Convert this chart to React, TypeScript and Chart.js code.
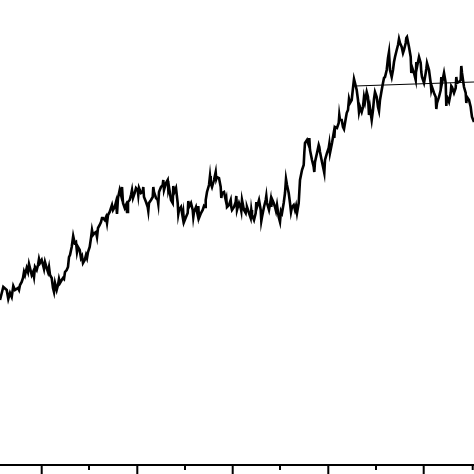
import React, { useEffect, useRef } from "react";
import { Chart, registerables } from "chart.js";

Chart.register(...registerables);

// time index (horizontal) and series value (vertical)
const timeA = [0, 6.7, 10, 11.7, 15, 18, 20, 21.7, 23, 25,
  26.7, 28, 30, 31.7, 33, 35, 36.7, 38, 40, 41.7,
  43, 45, 46.7, 48, 50, 51.7, 53, 55, 56.7, 58,
  60, 61.7, 63, 65, 66.7, 68, 70, 71.7];
const valueA = [33, 35, 34.4, 33.6, 35, 35.4, 36, 36.6, 37.4, 38,
  39.4, 38.6, 39.4, 38, 38.6, 39.6, 39, 40, 40.4, 41,
  40, 40.6, 39.4, 38.6, 38, 37.4, 35.4, 36.4, 35, 36,
  36.4, 37, 37.4, 38.6, 39, 39.6, 42, 43.6];

const timeB = [74.7, 76, 78, 79.7, 81, 83, 84.7, 86, 88, 89.7,
  91, 93, 94.7, 96, 98, 99.7, 101, 103, 104.7, 106,
  108, 109.7, 111, 113, 114.7, 116, 118, 119.7, 121, 123,
  124.7, 126, 128, 129.7, 131, 133, 134.7, 136];
const valueB = [44.4, 44.6, 43.6, 43, 41.4, 40.4, 41, 42, 42.6, 43.6,
  45.4, 46, 46.4, 46.6, 47.4, 48, 48.6, 49.4, 49, 49.6,
  50, 50.6, 51.4, 51, 51.6, 52.6, 53.4, 55, 54, 52.4,
  51.4, 52, 52.6, 53, 54, 53.4, 54.4, 55.4];

const timeC = [137.7, 139, 141, 142.7, 144, 146, 147.7, 149, 151, 152.7,
  154, 156, 157.7, 159, 161, 162.7, 164, 166, 167.7, 169,
  171, 172.7, 174, 176, 177.7, 179, 181, 182.7, 184, 186,
  187.7, 189, 191, 192.7, 194, 196, 197.7, 199, 201, 202.7];
const valueC = [55, 55.4, 54.4, 54.6, 53.6, 52.6, 51.6, 52.4, 53, 53.6,
  54.6, 53.4, 53, 54.6, 55.6, 56, 55, 56.4, 57, 55.6,
  53, 52.4, 54.4, 55.4, 52.4, 51, 51.6, 49.6, 48.6, 49.6,
  50.4, 51.6, 52.4, 51, 50.6, 51.6, 50, 49.4, 50.4, 51];

const timeD = [204, 205.7, 207, 209, 210.7, 212, 214, 215.7, 217, 219,
  220.7, 222, 224, 225.7, 227, 229, 230.7, 232, 234, 235.7,
  237, 239, 240.7, 242, 244, 245.7, 247, 249, 250.7, 252,
  254, 255.7, 257, 259, 260.7, 262, 264, 265.7, 267, 269,
  270.7, 272];
const valueD = [51.8, 53, 54.6, 56, 56.4, 55.6, 57, 58.6, 57.6, 57.4,
  55.6, 54.4, 54.6, 53, 51.6, 52, 53, 51, 51.6, 52.6,
  51, 52.4, 51.4, 53, 51, 50.4, 51.6, 50.4, 49.4, 50,
  49, 50.4, 51.6, 53, 51, 49.6, 51.6, 53, 52.4, 51,
  53, 53.2];

const timeE = [273.7, 275, 277, 278.7, 280, 282, 283.7, 285, 287, 288.7,
  290, 292, 293.7, 295, 297, 298.7, 300, 302, 303.7, 305,
  307, 308.7, 310, 312, 313.7, 315, 317, 318.7, 320, 322,
  323.7, 325, 327, 328.7, 330, 332, 333.7, 335, 337, 338.7,
  340];
const valueE = [52.4, 51.6, 52, 49.6, 48.6, 50.4, 52.4, 54.4, 56, 54.4,
  52.4, 51.6, 52, 51, 50.4, 52.4, 57, 59, 60, 64.4,
  65, 64, 63, 61, 59.6, 60.6, 62.4, 64, 62.6, 60.6,
  59, 61, 62.4, 63.4, 62.4, 64.4, 66.4, 67.6, 67.4, 68.4,
  69];

const timeF = [341.7, 343, 345, 346.7, 348, 350, 351.7, 353, 355, 356.7,
  358, 360, 361.7, 363, 365, 366.7, 368, 370, 371.7, 373,
  375, 376.7, 378, 380, 381.7, 383, 385, 386.7, 388, 390,
  391.7, 393, 395, 396.7, 398, 400, 401.7, 403];
const valueF = [69, 67.6, 68.4, 70.4, 71, 72.4, 73, 75.4, 76.4, 75,
  73, 71.6, 70.6, 71.6, 72.6, 74.6, 73.6, 71.4, 69, 71,
  74.6, 73.6, 71.6, 73, 75, 76.4, 77.6, 79, 81.4, 79,
  77.6, 79, 81.6, 83, 84, 84.4, 83.6, 82.4];

const timeG = [404, 405.7, 407, 409, 410.7, 412, 414, 415.7, 417, 419,
  420.7, 422, 424, 425.7, 427, 429, 430.7, 432, 434, 435.7,
  437, 439, 440.7, 442, 444, 445.7, 447, 449, 450.7, 452,
  454, 455.7, 457, 459, 460.7, 462, 464, 465.7, 467, 469,
  470.7, 472, 474];
const valueG = [83, 84.4, 85.6, 83.6, 81.6, 79.6, 78.4, 77, 79.6, 81.6,
  80.4, 77.6, 76.4, 78.4, 80.4, 79, 76.4, 75.6, 74.4, 73.6,
  72.4, 73.6, 75, 76.4, 78.4, 76.4, 73.6, 72.6, 74.4, 75.6,
  74.4, 75.4, 76.4, 76.6, 77, 78.4, 75.6, 74.4, 73.6, 73,
  71.6, 69.6, 68.6];

// short spikes (time, value)
const spikeTime = [3.3, 8.3, 13.3, 19, 24, 29, 34, 39, 44, 49, 54, 59, 64, 69,
  73.2, 77, 82, 87, 92, 97, 102, 107, 112, 117, 122, 127, 132,
  138.3, 143.3, 148.3, 153.3, 158.3, 163.3, 168.3, 173.3, 178.3, 183.3, 188.3, 193.3, 198.3,
  205, 210, 216.3, 221.3, 226.3, 231.3, 236.3, 241.3, 246.3, 251.3, 256.3, 261.3, 266.3, 271.3,
  276, 281, 286, 291, 296, 304.3, 309.3, 314.3, 319.3, 324.3, 329.3, 334.3, 339.3,
  344, 349, 354, 359, 364, 369, 374, 379, 384, 389, 394, 399,
  406.3, 411.3, 416.3, 421.3, 426.3, 431.3, 436.3, 441.3, 446.3, 451.3, 456.3, 461.3, 466.3, 471.3];
const spikeValue = [35.6, 33.2, 35.8, 35, 38.6, 40.2, 37.6, 41.2, 39.2, 39.6, 34.6, 37.2, 37.2, 41.6,
  45.8, 42.6, 41.8, 41.4, 47, 45.6, 49.4, 48.4, 52, 50.2, 55.6, 50.6, 55,
  54, 55.6, 50.8, 55.6, 52.2, 57, 55, 55.8, 50.2, 50.4, 52.8, 49.6, 51.8,
  51.6, 57.8, 57.2, 53.4, 53.4, 51.6, 53.8, 50.8, 51.2, 51, 52.6, 48.8, 53.8, 51.6,
  50.8, 50.8, 57.2, 50.6, 51.8, 62.4, 65.4, 58.6, 63.6, 58.4, 64.2, 65.4, 70,
  67.2, 73.2, 77.2, 70.6, 73.6, 70, 73.2, 70.8, 77.4, 82.6, 80.6, 85.2,
  85.4, 78.4, 80.6, 78.6, 79.2, 75, 71.2, 77.6, 71.8, 75.8, 77.6, 79.8, 72.4, 70.6];

// straight reference line drawn across the late segment
const trendTime = [355, 474];
const trendValue = [75.8, 76.6];

// axis ticks
const majorTicks = [41.7, 137.3, 232.7, 328.3, 423.7];
const minorTicks = [89, 185, 280, 376, 472.7];

const X_MIN = 0;
const X_MAX = 474;
const Y_MIN = 0;
const Y_MAX = 93;

const mainPoints = [
  ...timeA.map((t, i) => ({ x: t, y: valueA[i] })),
  ...timeB.map((t, i) => ({ x: t, y: valueB[i] })),
  ...timeC.map((t, i) => ({ x: t, y: valueC[i] })),
  ...timeD.map((t, i) => ({ x: t, y: valueD[i] })),
  ...timeE.map((t, i) => ({ x: t, y: valueE[i] })),
  ...timeF.map((t, i) => ({ x: t, y: valueF[i] })),
  ...timeG.map((t, i) => ({ x: t, y: valueG[i] })),
  ...spikeTime.map((t, i) => ({ x: t, y: spikeValue[i] })),
].sort((a, b) => a.x - b.x);

const axisPlugin = {
  id: "bottomAxis",
  afterDraw(chart: any) {
    const { ctx, chartArea } = chart;
    const xs = chart.scales.x;
    const y0 = chartArea.bottom;
    ctx.save();
    ctx.strokeStyle = "#000";
    ctx.lineWidth = 2;
    ctx.beginPath();
    ctx.moveTo(chartArea.left, y0);
    ctx.lineTo(chartArea.right, y0);
    ctx.stroke();
    ctx.beginPath();
    majorTicks.forEach((v) => {
      const px = xs.getPixelForValue(v);
      ctx.moveTo(px, y0);
      ctx.lineTo(px, y0 + 10);
    });
    minorTicks.forEach((v) => {
      const px = xs.getPixelForValue(v);
      ctx.moveTo(px, y0);
      ctx.lineTo(px, y0 + 5);
    });
    ctx.stroke();
    ctx.restore();
  },
};

export default function App() {
  const ref = useRef<HTMLCanvasElement | null>(null);
  useEffect(() => {
    if (!ref.current) return;
    const chart = new Chart(ref.current, {
      type: "line",
      data: {
        datasets: [
          {
            data: mainPoints,
            borderColor: "#000",
            borderWidth: 2.6,
            pointRadius: 0,
            tension: 0,
            fill: false,
          },
          {
            data: trendTime.map((t, i) => ({ x: t, y: trendValue[i] })),
            borderColor: "#000",
            borderWidth: 1,
            pointRadius: 0,
            tension: 0,
            fill: false,
          },
        ],
      },
      options: {
        responsive: false,
        animation: false,
        layout: { padding: { top: 0, left: 0, right: 0, bottom: 9 } },
        plugins: { legend: { display: false }, tooltip: { enabled: false } },
        scales: {
          x: { type: "linear", min: X_MIN, max: X_MAX, display: false },
          y: { type: "linear", min: Y_MIN, max: Y_MAX, display: false },
        },
      },
      plugins: [axisPlugin],
    });
    return () => chart.destroy();
  }, []);
  return (
    <div style={{ position: "absolute", left: 0, top: 0, width: 474, height: 474, background: "#fff" }}>
      <canvas ref={ref} width={474} height={474} />
    </div>
  );
}
